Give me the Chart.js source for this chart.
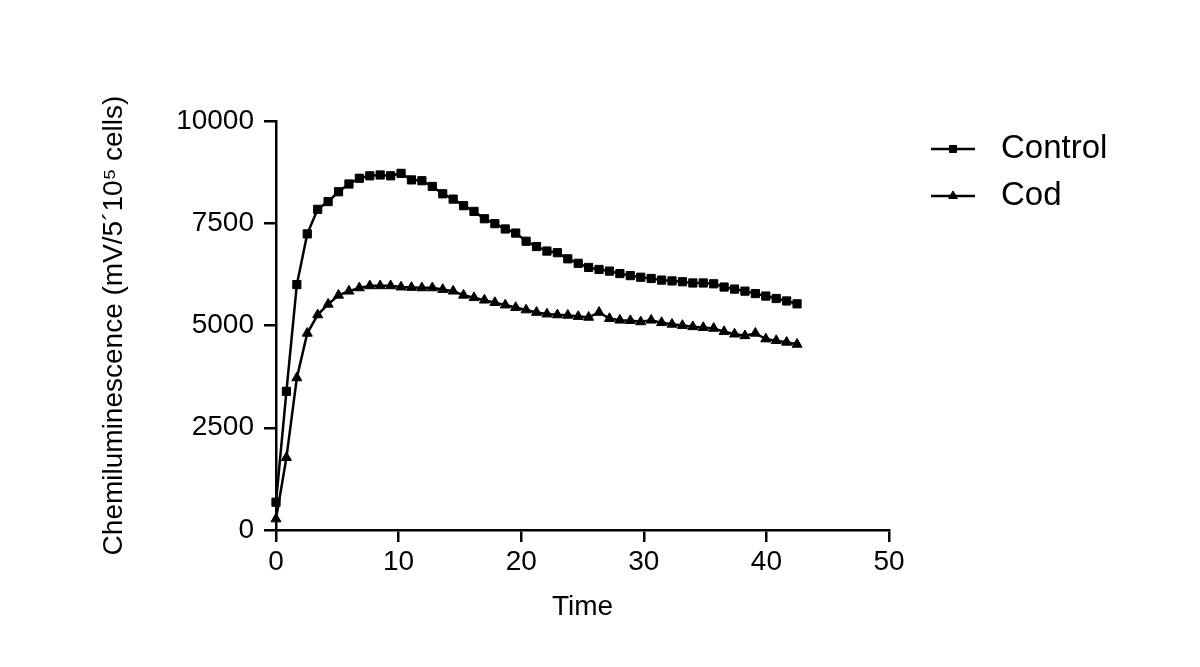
<!DOCTYPE html>
<html>
<head>
<meta charset="utf-8">
<script src="https://cdn.jsdelivr.net/npm/chart.js@4/dist/chart.umd.min.js"></script>
<style>
  html, body { margin: 0; padding: 0; background: #fff; }
  #wrap { width: 1200px; height: 667px; }
</style>
</head>
<body>
<div id="wrap"><canvas id="chart" width="1200" height="667"></canvas></div>
<script>
// sampling times (min)
const times = [0, 0.85, 1.7, 2.55, 3.4, 4.25, 5.1, 5.95, 6.8, 7.65, 8.5, 9.35, 10.2, 11.05, 11.9,
  12.75, 13.6, 14.45, 15.3, 16.15, 17, 17.85, 18.7, 19.55, 20.4, 21.25, 22.1, 22.95, 23.8, 24.65,
  25.5, 26.35, 27.2, 28.05, 28.9, 29.75, 30.6, 31.45, 32.3, 33.15, 34, 34.85, 35.7, 36.55, 37.4,
  38.25, 39.1, 39.95, 40.8, 41.65, 42.5];

const controlValues = [680, 3390, 6000, 7240, 7840, 8030, 8270, 8460, 8600, 8660, 8680, 8660, 8720,
  8560, 8540, 8400, 8220, 8090, 7930, 7790, 7610, 7490, 7360, 7260, 7060, 6930, 6820, 6780, 6630,
  6520, 6420, 6370, 6330, 6270, 6220, 6180, 6150, 6110, 6090, 6070, 6040, 6040, 6020, 5940, 5890,
  5840, 5780, 5720, 5660, 5600, 5530];

const codValues = [270, 1770, 3720, 4810, 5260, 5520, 5740, 5840, 5920, 5970, 5970, 5970, 5940,
  5930, 5920, 5920, 5880, 5840, 5740, 5680, 5620, 5560, 5500, 5440, 5380, 5320, 5280, 5260, 5250,
  5220, 5200, 5320, 5170, 5130, 5120, 5090, 5130, 5070, 5030, 5000, 4970, 4950, 4930, 4850, 4790,
  4750, 4810, 4670, 4630, 4590, 4540];

const seriesNames = ['Control', 'Cod'];
const xTicks = [0, 10, 20, 30, 40, 50];
const yTicks = [0, 2500, 5000, 7500, 10000];

const FONT = '"Liberation Sans", Arial, sans-serif';

function toPoints(values) {
  return values.map((v, i) => ({ x: times[i], y: v }));
}

// legend: line with the marker in the middle, like the original
const sampleLegend = {
  id: 'sampleLegend',
  afterDraw(chart) {
    const ctx = chart.ctx;
    const rows = [149, 196];
    ctx.save();
    chart.data.datasets.forEach((ds, i) => {
      const y = rows[i];
      ctx.strokeStyle = '#000';
      ctx.lineWidth = 2.5;
      ctx.beginPath();
      ctx.moveTo(931, y);
      ctx.lineTo(975, y);
      ctx.stroke();
      ctx.fillStyle = '#000';
      ctx.lineWidth = 1;
      Chart.helpers.drawPoint(ctx, {
        pointStyle: ds.pointStyle,
        radius: 5,
        borderWidth: 1
      }, 953, y);
      ctx.fillStyle = '#000';
      ctx.font = '33px ' + FONT;
      ctx.textBaseline = 'middle';
      ctx.textAlign = 'left';
      ctx.fillText(ds.label, 1001, y);
    });
    ctx.restore();
  }
};

const axisLine = { color: '#000', width: 2.5 };
const axisGrid = { drawOnChartArea: false, drawTicks: true, tickLength: 12, color: '#000', lineWidth: 2.5 };

new Chart(document.getElementById('chart'), {
  type: 'line',
  data: {
    datasets: [
      {
        label: seriesNames[0],
        data: toPoints(controlValues),
        borderColor: '#000',
        backgroundColor: '#000',
        borderWidth: 2.5,
        pointStyle: 'rect',
        pointRadius: 5.8,
        pointBorderWidth: 1,
        clip: false
      },
      {
        label: seriesNames[1],
        data: toPoints(codValues),
        borderColor: '#000',
        backgroundColor: '#000',
        borderWidth: 2.5,
        pointStyle: 'triangle',
        pointRadius: 5.8,
        pointBorderWidth: 1,
        clip: false
      }
    ]
  },
  options: {
    responsive: false,
    animation: false,
    layout: { padding: { left: 97, right: 311, top: 121, bottom: 43 } },
    plugins: { legend: { display: false }, tooltip: { enabled: false } },
    scales: {
      x: {
        type: 'linear',
        min: 0,
        max: 50,
        afterBuildTicks: s => { s.ticks = xTicks.map(v => ({ value: v })); },
        afterFit: s => { s.height = 94; },
        ticks: { color: '#000', font: { family: FONT, size: 28 }, padding: 3, maxRotation: 0,
          callback: v => String(v) },
        grid: axisGrid,
        border: axisLine,
        title: { display: true, text: 'Time', color: '#000', font: { family: FONT, size: 28 }, padding: 0 }
      },
      y: {
        min: 0,
        max: 10000,
        afterBuildTicks: s => { s.ticks = yTicks.map(v => ({ value: v })); },
        afterFit: s => { s.width = 179; },
        ticks: { color: '#000', font: { family: FONT, size: 28 }, padding: 10,
          callback: v => String(v) },
        grid: axisGrid,
        border: axisLine,
        title: {
          display: true,
          text: 'Chemiluminescence (mV/5\u00B410\u2075 cells)',
          color: '#000',
          font: { family: FONT, size: 28 },
          padding: 0
        }
      }
    }
  },
  plugins: [sampleLegend]
});
</script>
</body>
</html>
